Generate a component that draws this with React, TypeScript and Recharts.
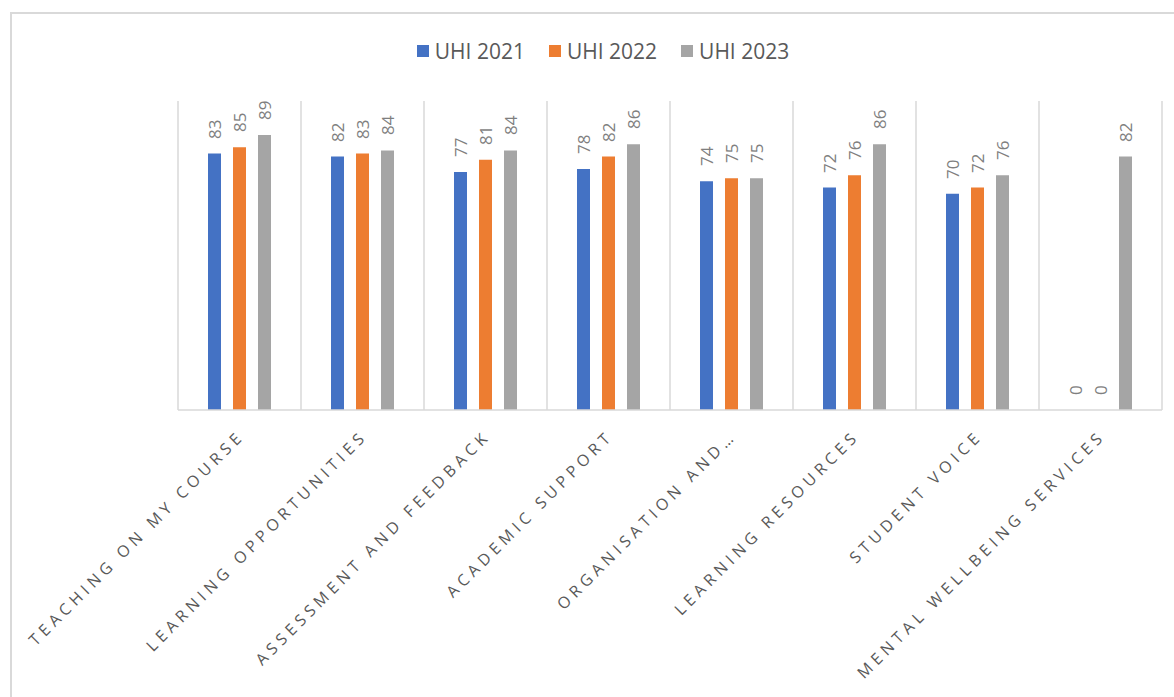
import React from 'react';
import { BarChart, Bar, XAxis, YAxis, CartesianGrid, Legend } from 'recharts';

const categories = [
  'TEACHING ON MY COURSE',
  'LEARNING OPPORTUNITIES',
  'ASSESSMENT AND FEEDBACK',
  'ACADEMIC SUPPORT',
  'ORGANISATION AND…',
  'LEARNING RESOURCES',
  'STUDENT VOICE',
  'MENTAL WELLBEING SERVICES',
];
const uhi2021 = [83, 82, 77, 78, 74, 72, 70, 0];
const uhi2022 = [85, 83, 81, 82, 75, 76, 72, 0];
const uhi2023 = [89, 84, 84, 86, 75, 86, 76, 82];

const SERIES = [
  { key: 'uhi2021', name: 'UHI 2021', color: '#4472c4' },
  { key: 'uhi2022', name: 'UHI 2022', color: '#ed7d31' },
  { key: 'uhi2023', name: 'UHI 2023', color: '#a5a5a5' },
];

const data = categories.map((name, i) => ({
  name,
  uhi2021: uhi2021[i],
  uhi2022: uhi2022[i],
  uhi2023: uhi2023[i],
}));

const FONT = '"Open Sans", sans-serif';
const GRID = '#d9d9d9';

function AxisTick({ x, y, payload }: any) {
  return (
    <text
      transform={`translate(${x + 6},${y + 19}) rotate(-45)`}
      textAnchor="end"
      fontSize={16}
      letterSpacing={4.6}
      fill="#595959"
      fontFamily={FONT}
    >
      {payload.value}
    </text>
  );
}

function ValueLabel(props: any) {
  const vb = props.viewBox || {};
  const x = props.x ?? vb.x;
  const y = props.y ?? vb.y;
  const width = props.width ?? vb.width;
  if (x == null || y == null || Number.isNaN(x) || Number.isNaN(y)) return null;
  const cx = x + (width || 0) / 2;
  return (
    <text
      transform={`translate(${cx},${Math.round(y) - 15}) rotate(-90)`}
      textAnchor="start"
      dominantBaseline="central"
      fontSize={17}
      fill="#7f7f7f"
      fontFamily={FONT}
    >
      {String(props.value ?? 0)}
    </text>
  );
}

function LegendContent() {
  return (
    <div style={{ display: 'flex', justifyContent: 'center', height: 24, alignItems: 'center', fontFamily: FONT }}>
      {SERIES.map((s) => (
        <div key={s.key} style={{ display: 'flex', alignItems: 'center', margin: '0 12px' }}>
          <span style={{ width: 12, height: 12, background: s.color, display: 'inline-block', marginRight: 6 }} />
          <span style={{ fontSize: 21, color: '#595959' }}>{s.name}</span>
        </div>
      ))}
    </div>
  );
}

export default function App() {
  return (
    <div style={{ position: 'absolute', left: 0, top: 0, width: 1174, height: 697, background: '#fff', overflow: 'hidden' }}>
      <div
        style={{
          position: 'absolute',
          left: 10,
          top: 12,
          width: 1200,
          height: 720,
          borderLeft: `2px solid ${GRID}`,
          borderTop: `2px solid ${GRID}`,
        }}
      />
      <BarChart
        width={1174}
        height={697}
        data={data}
        margin={{ top: 77, right: 12, left: 178, bottom: 0 }}
        barSize={13}
        barGap={12}
      >
        <CartesianGrid
          horizontal={false}
          stroke={GRID}
          strokeWidth={1.5}
          verticalCoordinatesGenerator={({ offset }: any) =>
            categories
              .map((_, i) => offset.left + (i * offset.width) / categories.length)
              .concat(offset.left + offset.width)
          }
        />
        <XAxis
          dataKey="name"
          height={287}
          interval={0}
          tickLine={false}
          axisLine={{ stroke: GRID, strokeWidth: 1.5 }}
          tick={<AxisTick />}
        />
        <YAxis hide domain={[0, 100]} />
        <Legend
          verticalAlign="top"
          content={<LegendContent />}
          wrapperStyle={{ top: 39, left: 16, width: 1174 }}
        />
        {SERIES.map((s) => (
          <Bar
            key={s.key}
            dataKey={s.key}
            name={s.name}
            fill={s.color}
            isAnimationActive={false}
            minPointSize={(v: number) => (v === 0 ? 0.01 : 0)}
            label={<ValueLabel />}
          />
        ))}
      </BarChart>
    </div>
  );
}
